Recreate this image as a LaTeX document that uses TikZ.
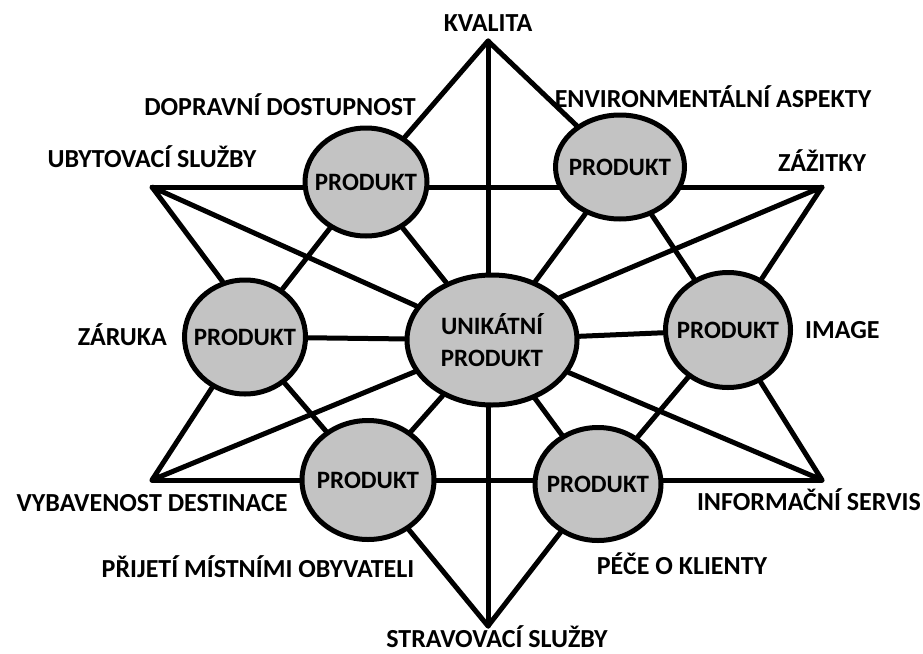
\documentclass[tikz,border=0pt]{standalone}
\usepackage{fontspec}
\setmainfont{Carlito}
\usetikzlibrary{
  positioning,
  shapes.geometric,
  backgrounds
}
\definecolor{prodgray}{HTML}{C3C3C3}

\begin{document}
\begin{tikzpicture}[
      x=1pt, y=-1pt,
      prod/.style={
        ellipse, draw=black, line width=5pt,
        fill=prodgray, inner sep=0pt
      },
      prodtext/.style={font=\fontsize{25}{32}\selectfont\bfseries, align=center},
      link/.style={line width=5pt, line cap=round, line join=round},
      lbl/.style={font=\fontsize{26}{30}\selectfont\bfseries, inner sep=0pt,
        text height=16pt, text depth=0pt}
    ]
      \useasboundingbox (0,0) rectangle (923,653);

      % star tips
      \coordinate (tipN)  at (488,41);
      \coordinate (tipS)  at (488,626);
      \coordinate (tipNW) at (152,187);
      \coordinate (tipNE) at (822,187);
      \coordinate (tipSW) at (152,480);
      \coordinate (tipSE) at (822,480);

      % products
      \node[prod, minimum width=170pt, minimum height=130pt,
        label={[prodtext]center:UNIKÁTNÍ\\PRODUKT}] (uniq) at (492,340) {};
      \node[prod, minimum width=122pt, minimum height=108pt,
        label={[prodtext]center:PRODUKT}] (prodNW) at (366,182) {};
      \node[prod, minimum width=129pt, minimum height=104pt,
        label={[prodtext]center:PRODUKT}] (prodNE) at (620,167) {};
      \node[prod, minimum width=121pt, minimum height=114pt,
        label={[prodtext]center:PRODUKT}] (prodW) at (245,337) {};
      \node[prod, minimum width=125pt, minimum height=115pt,
        label={[prodtext]center:PRODUKT}] (prodE) at (728,330) {};
      \node[prod, minimum width=132pt, minimum height=119pt,
        label={[prodtext]center:PRODUKT}] (prodSW) at (368,480) {};
      \node[prod, minimum width=126pt, minimum height=113pt,
        label={[prodtext]center:PRODUKT}] (prodSE) at (598,484) {};

      % lines behind the products
      \begin{scope}[on background layer]
        \draw[link] (tipN) -- (tipS);
        \draw[link] (tipNW) -- (tipNE);
        \draw[link] (tipSW) -- (tipSE);
        \draw[link] (prodW) -- (uniq) -- (prodE);
        \draw[link] (prodNW) -- (tipN) -- (prodNE);
        \draw[link] (prodSW) -- (tipS) -- (prodSE);
        \draw[link] (prodW.112) -- (tipNW) -- (uniq);
        \draw[link] (prodE) -- (tipNE) -- (uniq.32);
        \draw[link] (prodW) -- (tipSW) -- (uniq);
        \draw[link] (prodE) -- (tipSE) -- (uniq);
        % ring
        \draw[link] (prodNW) -- (prodW) -- (prodSW);
        \draw[link] (prodNE) -- (prodE) -- (prodSE);
        \foreach \p in {prodNW,prodNE,prodSW,prodSE}
          \draw[link] (\p) -- (uniq);
      \end{scope}

      % labels
      \node[lbl, above=9pt of tipN] (kvalita) {KVALITA};
      \node[lbl, above=19pt of tipNW] (ubyt) {UBYTOVACÍ SLUŽBY};
      \node[lbl, above=15pt of tipNE] (zazitky) {ZÁŽITKY};
      \node[lbl, below=15pt of tipSW] (vybav) {VYBAVENOST DESTINACE};
      \node[lbl, left=15pt of prodW] (zaruka) {ZÁRUKA};
      \node[lbl, right=12pt of prodE] (image) {IMAGE};
      \node[lbl, anchor=base] (doprava) at (280,115) {DOPRAVNÍ DOSTUPNOST};
      \node[lbl, anchor=base] (envi) at (713,107) {ENVIRONMENTÁLNÍ ASPEKTY};
      \node[lbl, anchor=base east] (info) at (921,510) {INFORMAČNÍ SERVIS};
      \node[lbl, anchor=base] (prijeti) at (258,577) {PŘIJETÍ MÍSTNÍMI OBYVATELI};
      \node[lbl, anchor=base] (pece) at (682,574) {PÉČE O KLIENTY};
      \node[lbl, anchor=base] (strav) at (497,647) {STRAVOVACÍ SLUŽBY};
    \end{tikzpicture}
\end{document}
